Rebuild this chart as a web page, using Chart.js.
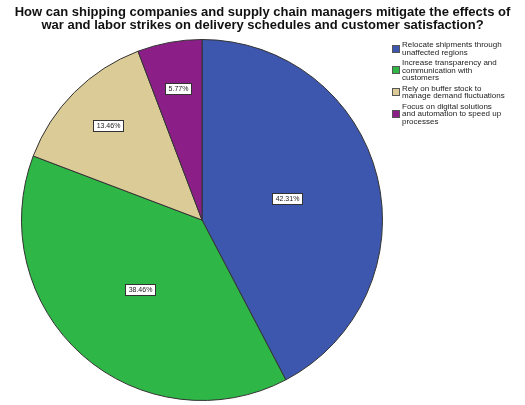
<!DOCTYPE html>
<html>
<head>
<meta charset="utf-8">
<script src="https://cdn.jsdelivr.net/npm/chart.js@4.4.1/dist/chart.umd.min.js"></script>
<style>
  html, body { margin: 0; padding: 0; background: #fff; }
  #wrap { position: relative; width: 525px; height: 405px; }
  #title {
    position: absolute; left: 0; top: 5px; width: 525px; text-align: center;
    font-family: "Liberation Sans", Arial, sans-serif; font-weight: bold; font-size: 13px; line-height: 13px; color: #111;
  }
  #legend {
    position: absolute; left: 392px; top: 41px; width: 114px;
    font-family: "Liberation Sans", Arial, sans-serif; font-size: 8px; line-height: 7.5px; color: #222;
  }
  .item { display: flex; align-items: center; margin-bottom: 3px; }
  .box { width: 8px; height: 8px; flex: 0 0 8px; margin-right: 2px; border: 1px solid #555; box-sizing: border-box; }
</style>
</head>
<body>
<div id="wrap">
  <canvas id="pie" width="525" height="405"></canvas>
  <div id="title"></div>
  <div id="legend"></div>
</div>
<script>
// answers and their share of respondents (%)
const titleLines = [
  'How can shipping companies and supply chain managers mitigate the effects of',
  'war and labor strikes on delivery schedules and customer satisfaction?'
];
const answers = [
  'Relocate shipments through unaffected regions',
  'Increase transparency and communication with customers',
  'Rely on buffer stock to manage demand fluctuations',
  'Focus on digital solutions and automation to speed up processes'
];
const shares = [42.31, 38.46, 13.46, 5.77];
const sliceColors = ['#3d56ae', '#2eb646', '#dacb97', '#8c1e88'];

// percentage boxes at each slice's centroid; thin slices get pushed further out
const sliceLabels = {
  id: 'sliceLabels',
  afterDatasetsDraw(chart) {
    const ctx = chart.ctx;
    const meta = chart.getDatasetMeta(0);
    ctx.save();
    ctx.font = '7px "Liberation Sans", Arial, sans-serif';
    ctx.textAlign = 'center';
    ctx.textBaseline = 'middle';
    meta.data.forEach((arc, i) => {
      const p = arc.getProps(['x', 'y', 'startAngle', 'endAngle', 'outerRadius']);
      const theta = p.endAngle - p.startAngle;
      const mid = p.startAngle + theta / 2;
      let f = 4 * Math.sin(theta / 2) / (3 * theta);
      if (theta < Math.PI / 3) f = 0.74;
      const d = f * p.outerRadius;
      const x = p.x + Math.cos(mid) * d;
      const y = p.y + Math.sin(mid) * d;
      const txt = shares[i].toFixed(2) + '%';
      const w = Math.round(ctx.measureText(txt).width + 6);
      const h = 11;
      const bx = Math.round(x - w / 2), by = Math.round(y - h / 2);
      ctx.fillStyle = '#fff';
      ctx.fillRect(bx, by, w, h);
      ctx.strokeStyle = '#333';
      ctx.lineWidth = 1;
      ctx.strokeRect(bx + 0.5, by + 0.5, w, h);
      ctx.fillStyle = '#222';
      ctx.fillText(txt, bx + w / 2 + 0.5, by + h / 2 + 1);
    });
    ctx.restore();
  }
};

new Chart(document.getElementById('pie'), {
  type: 'pie',
  data: {
    labels: answers,
    datasets: [{
      data: shares,
      backgroundColor: sliceColors,
      borderColor: '#333',
      borderWidth: 1
    }]
  },
  options: {
    responsive: false,
    animation: false,
    layout: { padding: { left: 8, right: 129, top: 39, bottom: 4 } },
    plugins: {
      legend: { display: false },
      tooltip: { enabled: false }
    }
  },
  plugins: [sliceLabels]
});

document.getElementById('title').innerHTML = titleLines.join('<br>');

// legend beside the pie
const legend = document.getElementById('legend');
answers.forEach((a, i) => {
  const row = document.createElement('div');
  row.className = 'item';
  const box = document.createElement('span');
  box.className = 'box';
  box.style.background = sliceColors[i];
  const label = document.createElement('span');
  label.textContent = a;
  row.appendChild(box);
  row.appendChild(label);
  legend.appendChild(row);
});
</script>
</body>
</html>
